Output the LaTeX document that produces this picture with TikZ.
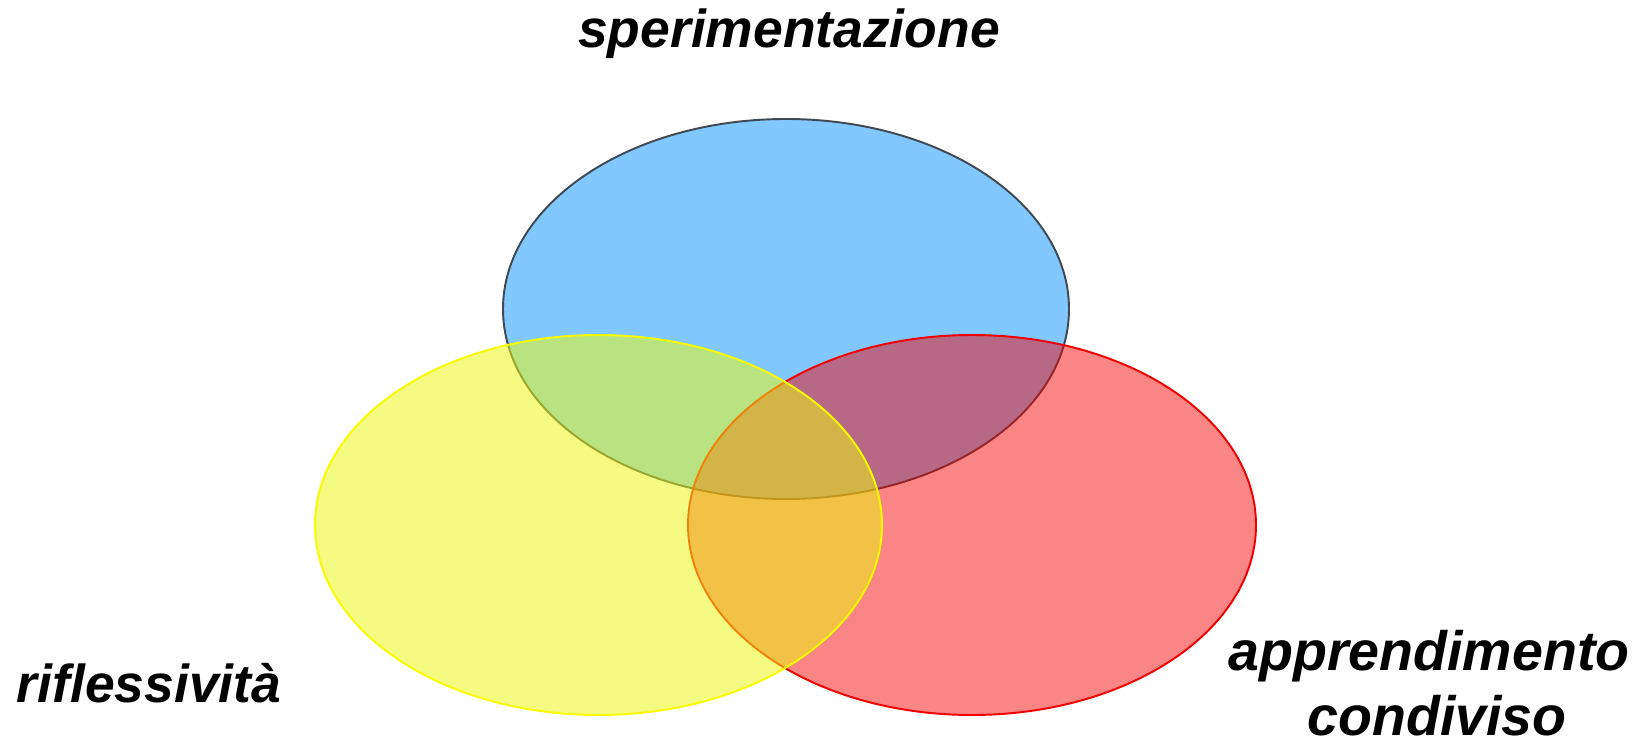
\documentclass[tikz,border=0pt]{standalone}
\usepackage{fontspec}
\setmainfont{Liberation Sans}
\begin{document}
\begin{tikzpicture}[x=0.02cm,y=-0.02cm,
  lbl/.style={font=\fontsize{30.4}{36}\selectfont\bfseries\itshape, inner sep=0pt, anchor=base},
  bigl/.style={lbl, font=\fontsize{31.6}{38}\selectfont\bfseries\itshape},
  ring/.style={line width=1.1pt}]
\definecolor{skyfill}{RGB}{128,200,255}
\definecolor{skyline}{RGB}{64,72,82}
\definecolor{redfill}{RGB}{245,0,0}
\definecolor{redline}{RGB}{240,0,0}
\definecolor{yelfill}{RGB}{236,249,17}
\definecolor{yelline}{RGB}{250,250,0}
\useasboundingbox (0,0) rectangle (1643,746);
\fill[white] (0,0) rectangle (1643,746);

% three overlapping sets
\draw[ring, draw=skyline, fill=skyfill] (786,309) ellipse [x radius=283, y radius=190];
\draw[ring, draw=redline, fill=redfill, fill opacity=0.48] (972,525) ellipse [x radius=284, y radius=190];
\draw[ring, draw=yelline, fill=yelfill, fill opacity=0.535] (598.5,525) ellipse [x radius=283.5, y radius=190];

% labels
\node[lbl] (sper) at (789,48) {sperimentazione};
\node[lbl] (rifl) at (149,702) {riflessività};
\node[bigl] (appr) at (1429,670) {apprendimento};
\node[bigl] (cond) at (1437,735) {condiviso};
\end{tikzpicture}
\end{document}
